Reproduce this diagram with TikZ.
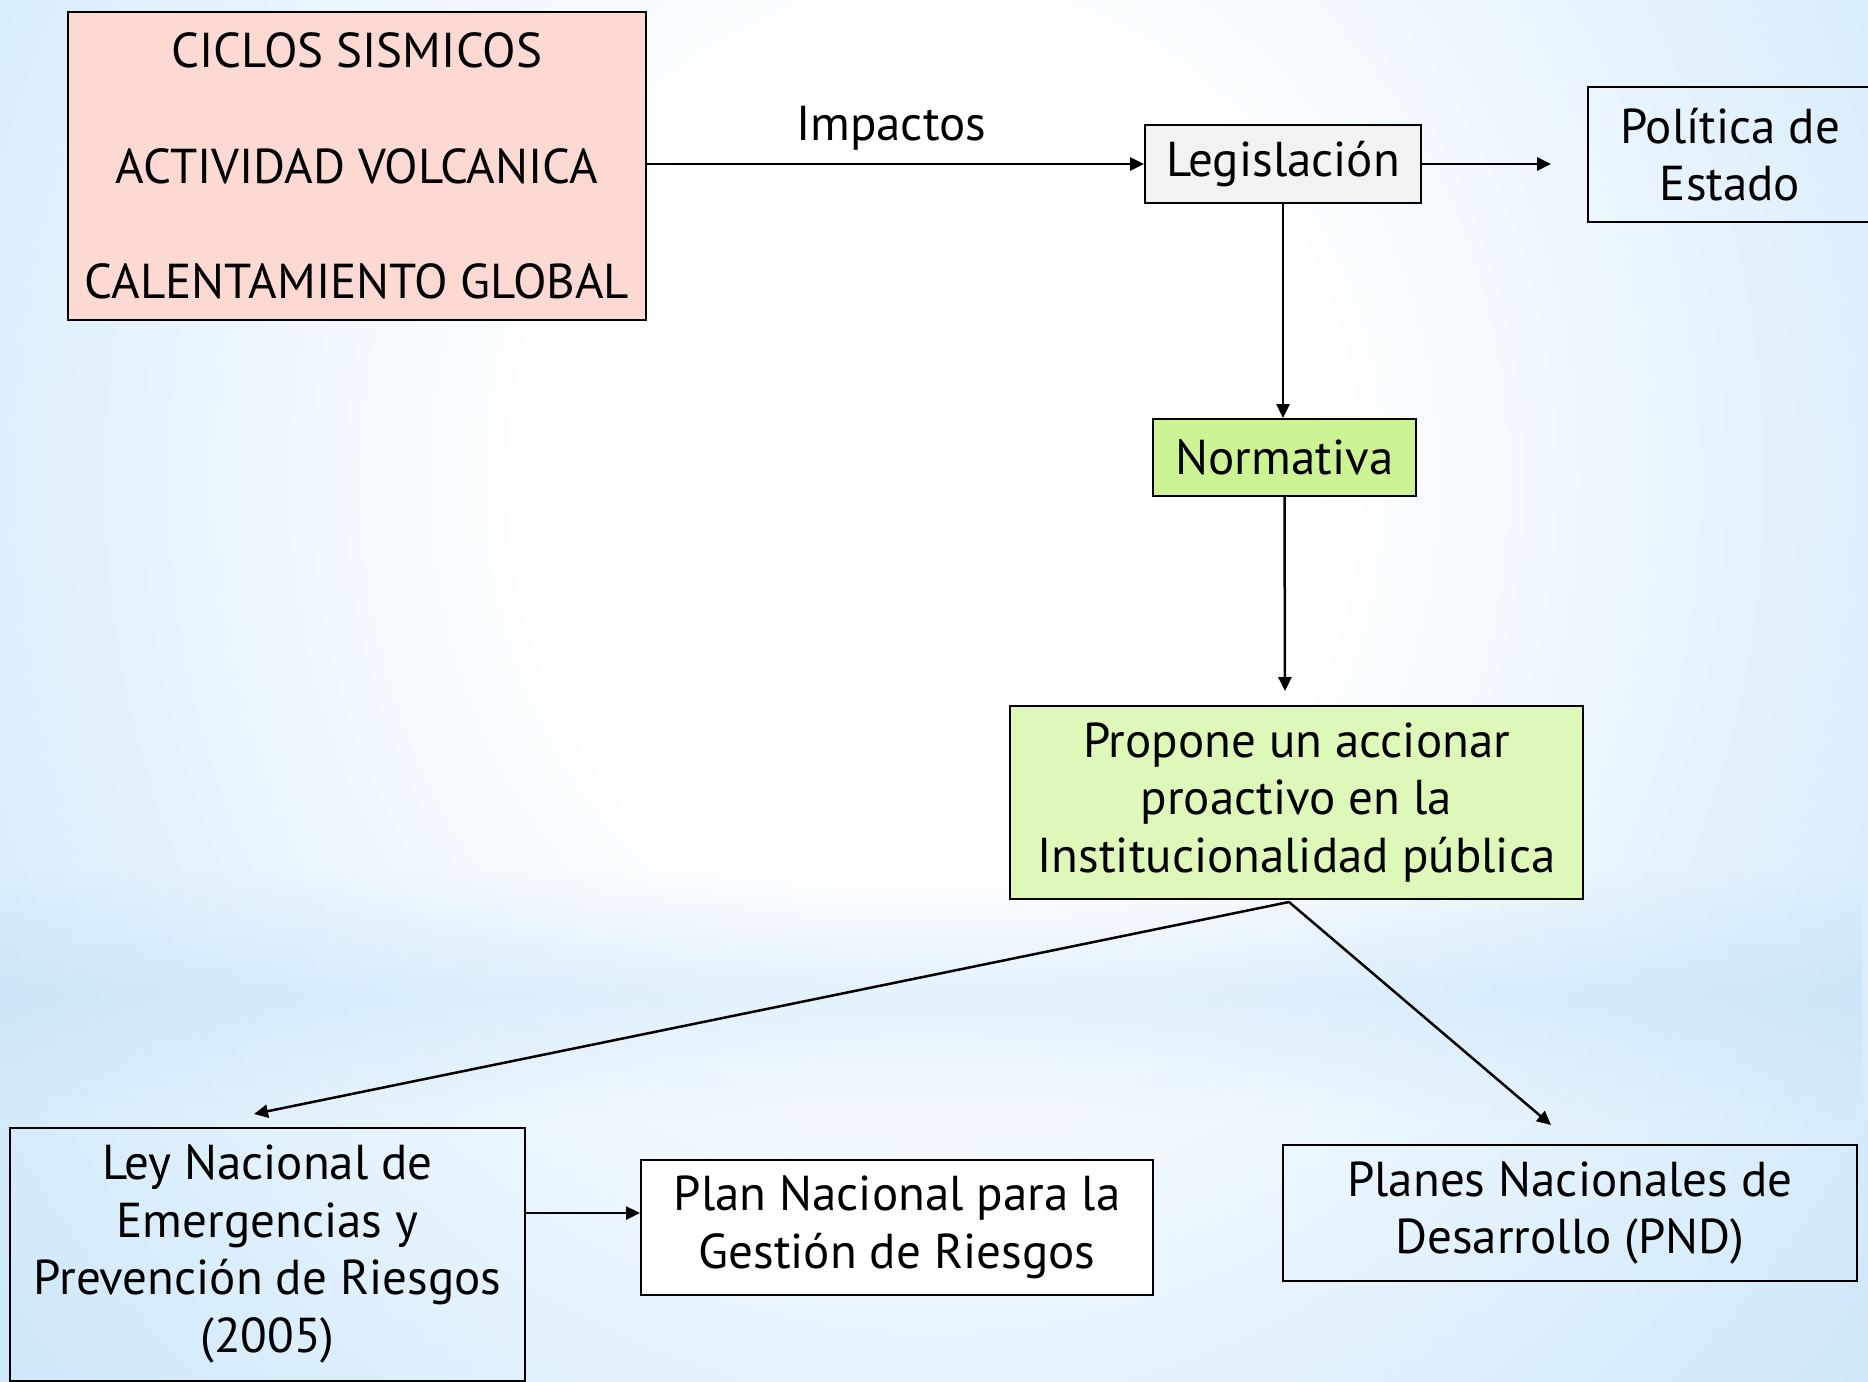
\documentclass[tikz,border=0pt]{standalone}
\usepackage{fontspec}
\setmainfont{PT Sans}
\usetikzlibrary{arrows.meta,fadings}
\definecolor{bgblue}{HTML}{A9D6F6}
\definecolor{pinkbox}{HTML}{FDD9D3}
\definecolor{graybox}{HTML}{F2F2F2}
\definecolor{greenA}{HTML}{CCF495}
\definecolor{greenB}{HTML}{DDF8B8}
\pgfdeclareradialshading{bgshade}{\pgfpoint{0bp}{0bp}}{color(0bp)=(white); color(10bp)=(white); color(50bp)=(bgblue); color(75bp)=(bgblue)}
\tikzfading[name=bandfade, top color=transparent!100, bottom color=transparent!100, middle color=transparent!72]
\begin{document}
\begin{tikzpicture}[x=1pt,y=-1pt,
  box/.style={draw=black, line width=2pt, inner sep=0pt, align=center,
    font=\fontsize{49}{57.5}\selectfont},
  arr/.style={line width=2.5pt, -{Triangle[length=14pt,width=13pt]}},
  lbl/.style={inner sep=0pt, font=\fontsize{49}{57.5}\selectfont}]
\useasboundingbox (0,0) rectangle (1868,1381);
\clip (0,0) rectangle (1868,1381);
% background
\shade[shading=bgshade] (0,-560) rectangle (1868,1520);
\fill[bgblue, path fading=bandfade] (0,870) rectangle (1868,1120);
% nodes
\node[box, fill=pinkbox, minimum width=578pt, minimum height=308pt] (src) at (357,166)
  {CICLOS SISMICOS\\[58pt]ACTIVIDAD VOLCANICA\\[58pt]CALENTAMIENTO GLOBAL};
\node[box, fill=graybox, minimum width=276pt, minimum height=78pt] (leg) at (1283,164) {Legislación};
\node[box, minimum width=284pt, minimum height=135pt] (pol) at (1730,154.5) {Política de\\Estado};
\node[box, fill=greenA, minimum width=263pt, minimum height=77pt] (norm) at (1284.5,457.5) {Normativa};
\node[box, fill=greenB, minimum width=573pt, minimum height=193pt] (prop) at (1296.5,802.5)
  {Propone un accionar\\proactivo en la\\Institucionalidad pública};
\node[box, minimum width=515pt, minimum height=253pt] (ley) at (267.5,1254)
  {Ley Nacional de\\Emergencias y\\Prevención de Riesgos\\(2005)};
\node[box, fill=white, minimum width=512pt, minimum height=135pt] (plan) at (897,1227.5)
  {Plan Nacional para la\\Gestión de Riesgos};
\node[box, minimum width=574pt, minimum height=136pt] (pnd) at (1570,1213)
  {Planes Nacionales de\\Desarrollo (PND)};
\node[lbl] (imp) at (891,128) {Impactos};
% free ends
\coordinate (polin) at (1551,164);
\coordinate (propin) at (1285,691);
\coordinate (split) at (1289,902);
\coordinate (leyin) at (254,1114);
\coordinate (pndin) at (1551,1125);
\coordinate (pa) at (0,1213);
% connectors
\draw[arr] (src.east |- leg.west) -- (leg.west);
\draw[arr] (leg.east) -- (polin);
\draw[arr] (leg.south) -- (leg.south |- norm.north);
\draw[arr] (norm.south) -- (propin);
\draw[arr] (split) -- (leyin);
\draw[arr] (split) -- (pndin);
\draw[arr] (ley.east |- pa) -- (plan.west |- pa);
\end{tikzpicture}
\end{document}
